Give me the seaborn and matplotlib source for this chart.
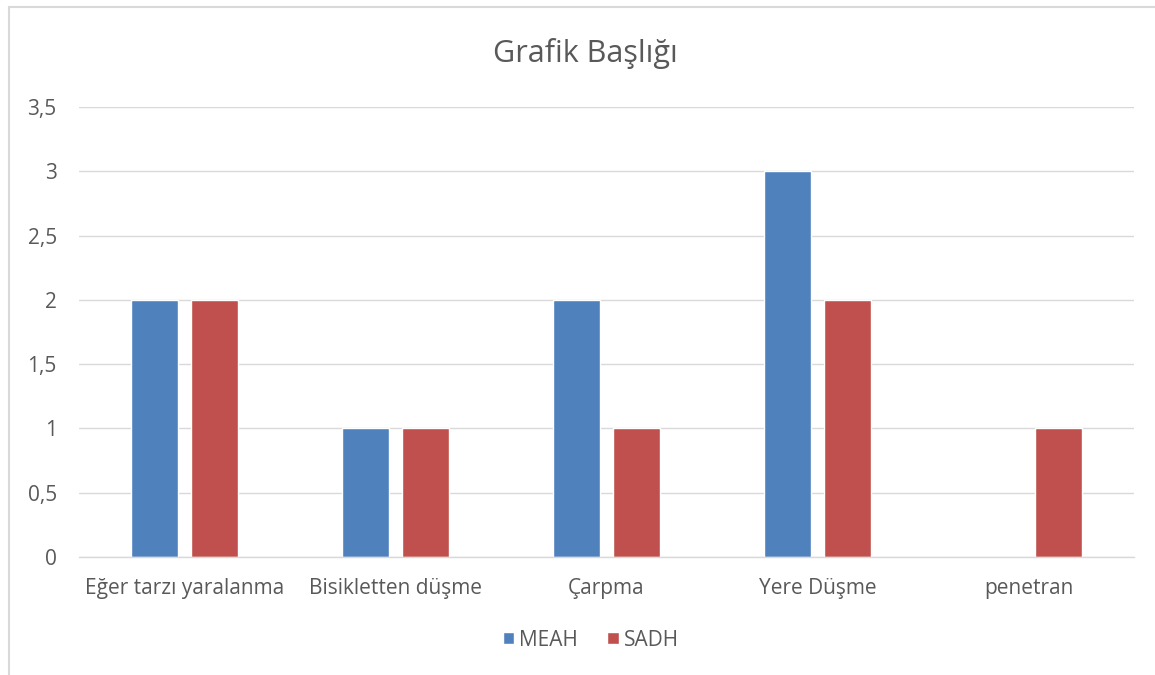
import matplotlib
matplotlib.use("Agg")
import matplotlib.pyplot as plt
import seaborn as sns
import pandas as pd
from matplotlib.patches import Rectangle
from matplotlib.ticker import FuncFormatter

categories = ["Eğer tarzı yaralanma", "Bisikletten düşme", "Çarpma", "Yere Düşme", "penetran"]
meah = [2, 1, 2, 3, 0]
sadh = [2, 1, 1, 2, 1]
series = ["MEAH", "SADH"]
title = "Grafik Başlığı"

df = pd.DataFrame({
    "cat": categories * 2,
    "val": meah + sadh,
    "ser": [series[0]] * len(categories) + [series[1]] * len(categories),
})

sns.set_theme(style="white")
plt.rcParams['font.family'] = ['Open Sans', 'DejaVu Sans']

W, H = 1155, 675
fig = plt.figure(figsize=(W / 100, H / 100), dpi=100)
ax = fig.add_axes([79 / W, 1 - 557 / H, (1134 - 79) / W, (557 - 107) / H])

sns.barplot(data=df, x="cat", y="val", hue="ser", order=categories,
            hue_order=series, palette=["#4F81BD", "#C0504D"],
            width=0.57, gap=0.23, ax=ax, saturation=1, legend=True, errorbar=None)

ax.set_ylim(0, 3.5)
ax.set_xlim(-0.5, len(categories) - 0.5)
ax.set_yticks([0, 0.5, 1, 1.5, 2, 2.5, 3, 3.5])
ax.yaxis.set_major_formatter(FuncFormatter(lambda v, p: ("%g" % v).replace(".", ",")))
ax.grid(axis="y", color="#D9D9D9", linewidth=1)
ax.set_axisbelow(True)
for s in ["top", "right", "left"]:
    ax.spines[s].set_visible(False)
ax.spines["bottom"].set_color("#D9D9D9")
ax.spines["bottom"].set_linewidth(1)
ax.tick_params(axis="both", length=0, colors="#595959", labelsize=15)
ax.tick_params(axis="x", pad=15)
ax.tick_params(axis="y", pad=16)
ax.set_xlabel("")
ax.set_ylabel("")

fig.text(585 / W, 1 - 62 / H, title, ha="center", va="baseline", fontsize=22, color="#595959")

handles, labels = ax.get_legend_handles_labels()
ax.legend_.remove()
fig.legend(handles, labels, loc="center", bbox_to_anchor=(591 / W, 1 - 640 / H), ncol=2,
           frameon=False, fontsize=15, labelcolor="#595959", handlelength=0.55,
           handleheight=0.55, handletextpad=0.25, columnspacing=1.4)

fig.patches.append(Rectangle((9 / W, -0.05), 1.1, 1 - 7 / H + 0.05, transform=fig.transFigure,
                             fill=False, edgecolor="#D9D9D9", linewidth=1.5))

fig.savefig("out.png", dpi=100)
